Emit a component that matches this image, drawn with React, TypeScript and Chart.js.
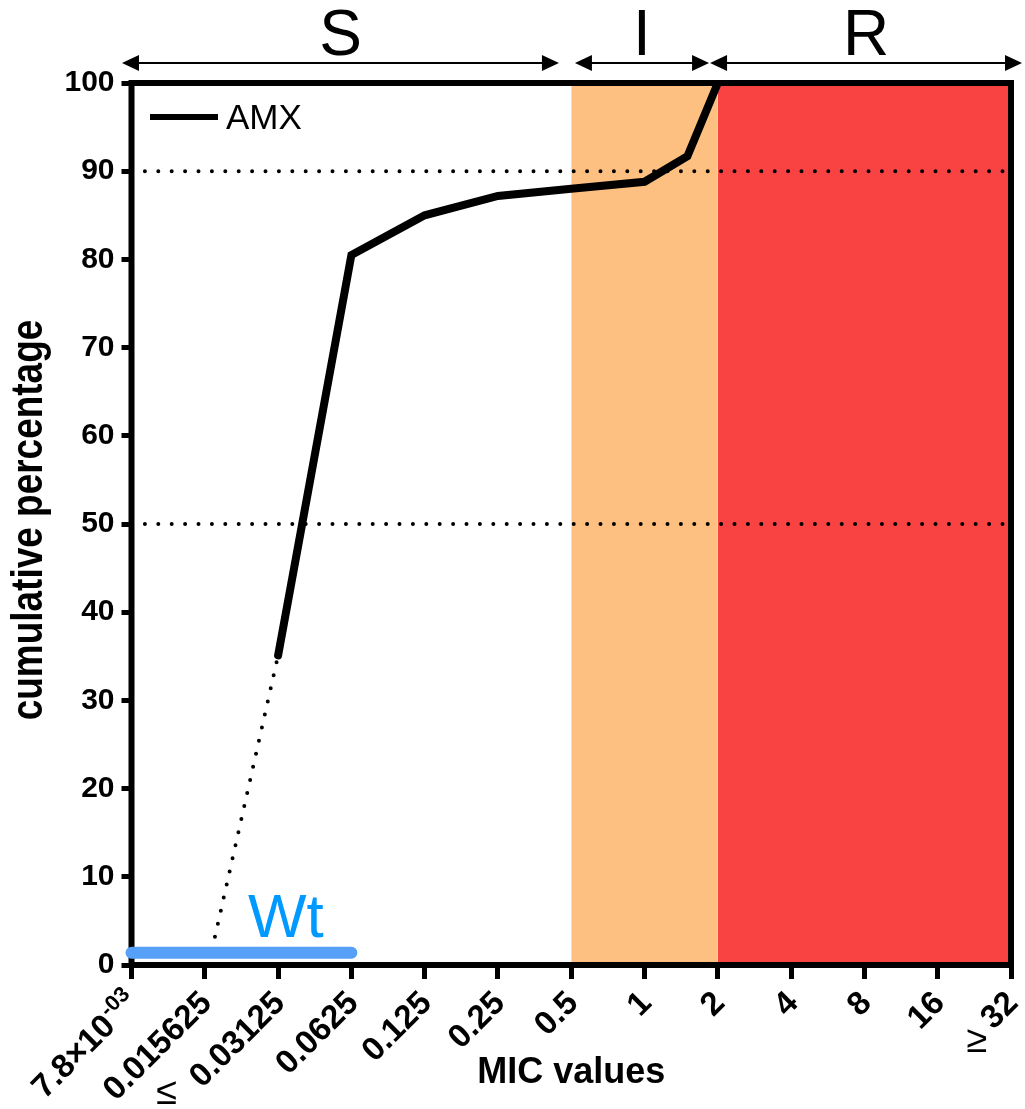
import React, { useEffect, useRef } from "react";
import { Chart, registerables } from "chart.js";

Chart.register(...registerables);

// ---------- data ----------
const micBase = 0.0078125;
const xTickLabels = ["7.8×10^-03", "0.015625", "≤ 0.03125", "0.0625", "0.125", "0.25", "0.5", "1", "2", "4", "8", "16", "≥32"];
const amxMic = [0.03125, 0.0625, 0.125, 0.25, 0.5, 1, 1.5, 2];
const amxCumPct = [35.1, 80.5, 85.0, 87.2, 88.0, 88.8, 91.7, 100];
const extrapMic = [0.0172, 0.03125];
const extrapPct = [3.2, 35.1];
const wtMic = [0.0078125, 0.0625];
const wtLevel = 1.4;
const thresholdPct = [90, 50];
const intermediateMic = [0.5, 2];
const resistantMic = [2, 32];
const zoneLabels = ["S", "I", "R"];
const zoneMic = [[0.0078125, 0.5], [0.5, 2], [2, 32]];
const seriesLabel = "AMX";

const xOf = (mic: number) => Math.log2(mic / micBase);
const FONT = "'Liberation Sans', Arial, Helvetica, sans-serif";

function drawArrow(ctx: CanvasRenderingContext2D, x1: number, x2: number, y: number) {
  const L = 17, H = 8;
  ctx.beginPath();
  ctx.moveTo(x1 + L - 1, y);
  ctx.lineTo(x2 - L + 1, y);
  ctx.lineWidth = 2;
  ctx.stroke();
  ctx.beginPath();
  ctx.moveTo(x1, y);
  ctx.lineTo(x1 + L, y - H);
  ctx.lineTo(x1 + L, y + H);
  ctx.closePath();
  ctx.fill();
  ctx.beginPath();
  ctx.moveTo(x2, y);
  ctx.lineTo(x2 - L, y - H);
  ctx.lineTo(x2 - L, y + H);
  ctx.closePath();
  ctx.fill();
}

const zoneOffsets = [[-9.5, -12.3], [3.7, -8.8], [-7.8, 11]];
const symbolOffsets: Record<string, number[]> = { "≤": [-27, 13], "≥": [-8, 20] };

function drawXLabels(ctx: CanvasRenderingContext2D, xs: any, bottom: number) {
  const mainFont = `bold 33px ${FONT}`;
  const supFont = `bold 22px ${FONT}`;
  const c = Math.SQRT1_2;
  xs.ticks.forEach((t: any) => {
    let label = xTickLabels[Math.round(t.value)];
    if (!label) return;
    let sym = "";
    if (label[0] === "≤" || label[0] === "≥") {
      sym = label[0];
      label = label.slice(1).trim();
    }
    let base = label;
    let sup = "";
    const k = label.indexOf("^");
    if (k >= 0) {
      base = label.slice(0, k);
      sup = label.slice(k + 1);
    }
    const px = xs.getPixelForValue(t.value);
    const ax = px;
    const ay = bottom + 31;
    ctx.save();
    ctx.font = mainFont;
    const wMain = ctx.measureText(base).width;
    ctx.font = supFont;
    const wSup = sup ? ctx.measureText(sup).width + 1 : 0;
    ctx.translate(ax, ay);
    ctx.rotate(-Math.PI / 4);
    ctx.textAlign = "left";
    ctx.textBaseline = "alphabetic";
    ctx.fillStyle = "#000";
    ctx.font = mainFont;
    ctx.fillText(base, -(wMain + wSup), 12);
    if (sup) {
      ctx.font = supFont;
      ctx.fillText(sup, -wSup + 1, -1);
    }
    ctx.restore();
    if (sym) {
      const total = wMain + wSup;
      const sx = ax - c * total;
      const sy = ay + c * total;
      const off = symbolOffsets[sym];
      ctx.save();
      ctx.fillStyle = "#000";
      ctx.font = `38px ${FONT}`;
      ctx.textAlign = "center";
      ctx.textBaseline = "middle";
      ctx.fillText(sym, sx + off[0], sy + off[1]);
      ctx.restore();
    }
  });
}

const decorPlugin = {
  id: "decor",
  beforeDatasetsDraw(chart: any) {
    const { ctx, chartArea: a } = chart;
    ctx.save();
    ctx.lineWidth = 6;
    ctx.strokeStyle = "#000";
    ctx.strokeRect(a.left, a.top, a.right - a.left, a.bottom - a.top);
    ctx.restore();
  },
  afterDraw(chart: any) {
    const { ctx, chartArea: a } = chart;
    const xs = chart.scales.x;
    const ys = chart.scales.y;
    ctx.save();
    ctx.fillStyle = "#000";
    ctx.strokeStyle = "#000";
    // zone arrows and letters
    const arrowY = 63;
    zoneMic.forEach((z, i) => {
      const x1 = xs.getPixelForValue(xOf(z[0])) + zoneOffsets[i][0];
      const x2 = xs.getPixelForValue(xOf(z[1])) + zoneOffsets[i][1];
      drawArrow(ctx, x1, x2, arrowY);
      ctx.font = `64px ${FONT}`;
      ctx.textAlign = "center";
      ctx.textBaseline = "alphabetic";
      ctx.fillText(zoneLabels[i], (x1 + x2) / 2, 55);
    });
    // legend
    ctx.beginPath();
    ctx.lineWidth = 6;
    ctx.moveTo(a.left + 18.5, a.top + 34);
    ctx.lineTo(a.left + 86.5, a.top + 34);
    ctx.stroke();
    ctx.font = `35px ${FONT}`;
    ctx.textAlign = "left";
    ctx.fillText(seriesLabel, a.left + 94.5, a.top + 46);
    // Wt label
    ctx.fillStyle = "#0099FF";
    ctx.font = `62px ${FONT}`;
    ctx.textAlign = "left";
    ctx.fillText("Wt", xs.getPixelForValue(xOf(0.03125)) - 30, ys.getPixelForValue(wtLevel) - 16);
    // x tick labels
    drawXLabels(ctx, xs, a.bottom);
    // axis titles
    ctx.fillStyle = "#000";
    ctx.font = `bold 36px ${FONT}`;
    ctx.textAlign = "center";
    ctx.textBaseline = "alphabetic";
    ctx.fillText("MIC values", (a.left + a.right) / 2, 1083);
    ctx.save();
    ctx.translate(42, (a.top + a.bottom) / 2 - 4);
    ctx.rotate(-Math.PI / 2);
    ctx.scale(0.84, 1);
    ctx.font = `bold 44px ${FONT}`;
    ctx.fillText("cumulative percentage", 0, 0);
    ctx.restore();
    ctx.restore();
  },
};

export default function App() {
  const ref = useRef<HTMLCanvasElement | null>(null);
  useEffect(() => {
    if (!ref.current) return;
    Chart.defaults.font.family = FONT;
    const pts = (mics: number[], vals: number[]) => mics.map((m, i) => ({ x: xOf(m), y: vals[i] }));
    const chart = new Chart(ref.current, {
      type: "line",
      data: {
        datasets: [
          {
            label: seriesLabel,
            data: pts(amxMic, amxCumPct),
            borderColor: "#000",
            borderWidth: 8,
            borderCapStyle: "round",
            borderJoinStyle: "miter",
            pointRadius: 0,
            fill: false,
            order: 0,
          },
          {
            label: "Wt",
            data: pts(wtMic, wtMic.map(() => wtLevel)),
            borderColor: "#56A0F8",
            borderWidth: 12,
            borderCapStyle: "round",
            pointRadius: 0,
            fill: false,
            clip: false,
            order: 1,
          },
          {
            label: "extrapolation",
            data: pts(extrapMic, extrapPct),
            borderColor: "#000",
            borderWidth: 4,
            borderDash: [0, 13.4],
            borderCapStyle: "round",
            pointRadius: 0,
            fill: false,
            order: 2,
          },
          ...thresholdPct.map((p) => ({
            label: "threshold " + p,
            data: [{ x: 0, y: p }, { x: 12, y: p }],
            borderColor: "#000",
            borderWidth: 4,
            borderDash: [0, 13.4],
            borderCapStyle: "round",
            pointRadius: 0,
            fill: false,
            order: 3,
          })),
          {
            label: "intermediate",
            data: intermediateMic.map((m) => ({ x: xOf(m), y: 100 })),
            borderWidth: 0,
            borderColor: "rgba(0,0,0,0)",
            backgroundColor: "#FDC080",
            pointRadius: 0,
            fill: "origin",
            order: 5,
          },
          {
            label: "resistant",
            data: resistantMic.map((m) => ({ x: xOf(m), y: 100 })),
            borderWidth: 0,
            borderColor: "rgba(0,0,0,0)",
            backgroundColor: "#F94242",
            pointRadius: 0,
            fill: "origin",
            order: 5,
          },
        ] as any,
      },
      options: {
        responsive: false,
        animation: false,
        devicePixelRatio: 1,
        layout: { padding: { left: 0, top: 83, right: 14, bottom: 0 } },
        plugins: {
          legend: { display: false },
          tooltip: { enabled: false },
          filler: { drawTime: "beforeDatasetsDraw" } as any,
        },
        scales: {
          x: {
            type: "linear",
            min: 0,
            max: 12,
            afterFit: (s: any) => { s.height = 144; s.paddingLeft = 0; s.paddingRight = 0; },
            afterBuildTicks: (s: any) => { s.ticks = xTickLabels.map((_, i) => ({ value: i })); },
            ticks: {
              display: false,
              autoSkip: false,
              stepSize: 1,
            },
            grid: { display: true, drawOnChartArea: false, drawTicks: true, tickLength: 14, lineWidth: 5, color: "#000" },
            border: { display: false },
          },
          y: {
            type: "linear",
            min: 0,
            max: 100,
            afterFit: (s: any) => { s.width = 131.5; s.paddingTop = 0; s.paddingBottom = 0; },
            ticks: {
              stepSize: 10,
              padding: 7,
              color: "#000",
              font: { size: 30, weight: "bold" },
            },
            grid: { display: true, drawOnChartArea: false, drawTicks: true, tickLength: 10, lineWidth: 5, color: "#000" },
            border: { display: false },
          },
        },
      },
      plugins: [decorPlugin],
    } as any);
    return () => chart.destroy();
  }, []);
  return (
    <div style={{ position: "absolute", left: 0, top: 0, width: 1025, height: 1109, background: "#fff" }}>
      <canvas ref={ref} width={1025} height={1109} style={{ display: "block" }} />
    </div>
  );
}
